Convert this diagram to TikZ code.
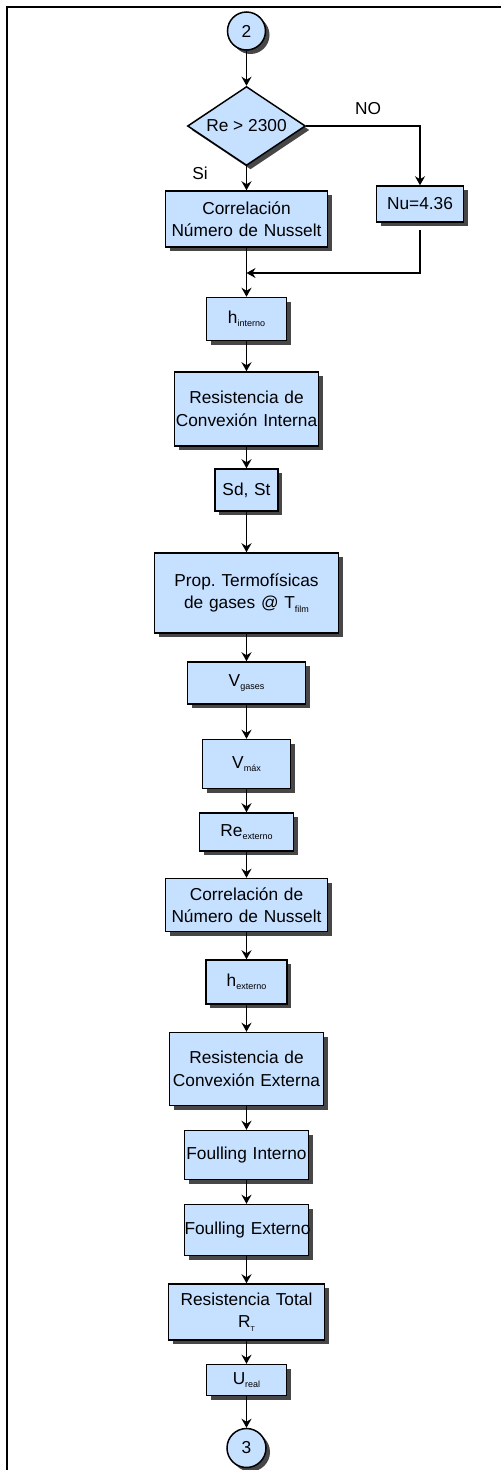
\documentclass[tikz,border=0pt]{standalone}
\usepackage{fontspec}
\setmainfont{Liberation Sans}
\usetikzlibrary{shapes.geometric,shadows,arrows.meta}
\definecolor{boxfill}{RGB}{198,224,255}
\newcommand\sbs[1]{\raisebox{-3.5pt}{\fontsize{9}{9}\selectfont #1}}
\frenchspacing
\begin{document}
\begin{tikzpicture}[x=1pt,y=-1pt,
  every node/.style={font=\fontsize{17.3}{22.5}\selectfont},
  shad/.style={general shadow={fill=black!72, shadow xshift=4pt, shadow yshift=-4pt}},
  proc/.style={draw=black, line width=1.5pt, fill=boxfill, shad, rectangle, inner sep=0pt, align=center},
  conn/.style={circle, draw=black, line width=1.5pt, fill=boxfill, shad, inner sep=0pt},
  dec/.style={diamond, draw=black, line width=1.5pt, fill=boxfill, shad, inner sep=0pt},
  arr/.style={line width=1.3pt, -{Stealth[length=9pt,width=10pt,inset=3pt]}},
  lbl/.style={inner sep=0pt}]
\useasboundingbox (0,0) rectangle (501,1470);
\draw[line width=2pt] (6.5,1470) -- (6.5,6.5) -- (501,6.5);

\node[conn, minimum size=38pt] (c2) at (246.5,31) {2};
\node[dec, minimum width=118pt, minimum height=79pt] (dec) at (246.5,126) {\makebox[0pt]{Re > 2300}};
\node[proc, text width=87pt, minimum height=36pt] (nu) at (420,204) {\mbox{Nu=4.36}};
\node[proc, text width=162pt, minimum height=56pt] (corr1) at (246.5,219) {Correlación\\\mbox{Número de Nusselt}};
\node[proc, text width=80pt, minimum height=43pt] (hint) at (246.5,319) {\mbox{h\sbs{interno}}};
\node[proc, text width=144pt, minimum height=74pt] (rint) at (246.5,409) {\mbox{Resistencia de}\\\mbox{Convexión Interna}};
\node[proc, text width=63pt, minimum height=42pt] (sdst) at (246.5,490) {\mbox{Sd, St}};
\node[proc, text width=184pt, minimum height=80pt] (prop) at (246.5,593) {\mbox{Prop. Termofísicas}\\\mbox{de gases @ T\sbs{film}}};
\node[proc, text width=118pt, minimum height=42pt] (vgas) at (246.5,683) {\mbox{V\sbs{gases}}};
\node[proc, text width=88pt, minimum height=49pt] (vmax) at (246.5,764) {\mbox{V\sbs{máx}}};
\node[proc, text width=94pt, minimum height=38pt] (reext) at (246.5,832) {\mbox{Re\sbs{externo}}};
\node[proc, text width=162pt, minimum height=53pt] (corr2) at (246.5,905) {\mbox{Correlación de}\\\mbox{Número de Nusselt}};
\node[proc, text width=81pt, minimum height=44pt] (hext) at (246.5,982) {\mbox{h\sbs{externo}}};
\node[proc, text width=154pt, minimum height=73pt] (rext) at (246.5,1069) {\mbox{Resistencia de}\\\mbox{Convexión Externa}};
\node[proc, text width=124pt, minimum height=49pt] (fint) at (246.5,1155) {\mbox{Foulling Interno}};
\node[proc, text width=124pt, minimum height=51pt] (fext) at (246.5,1230) {\mbox{Foulling Externo}};
\node[proc, text width=156pt, minimum height=56pt] (rtot) at (246.5,1312) {\mbox{Resistencia Total}\\R\sbs{\fontsize{7}{7}\selectfont T}};
\node[proc, text width=80pt, minimum height=31pt] (ureal) at (246.5,1380) {\mbox{U\sbs{real}}};
\node[conn, minimum size=39pt] (c3) at (246.5,1448) {3};

\node[lbl] (no) at (368,109) {NO};
\node[lbl] (si) at (200,173) {Si};

\coordinate (m) at (246.5,273);
\draw[arr] (c2) -- (dec);
\draw[arr] (dec.east) -| (nu.north);
\draw[arr] (dec) -- (corr1);
\draw[arr] ([yshift=-7pt]nu.south) |- (m);
\draw[arr] (corr1) -- (hint);
\draw[arr] (hint) -- (rint);
\draw[arr] (rint) -- (sdst);
\draw[arr] (sdst) -- (prop);
\draw[arr] (prop) -- (vgas);
\draw[arr] (vgas) -- (vmax);
\draw[arr] (vmax) -- (reext);
\draw[arr] (reext) -- (corr2);
\draw[arr] (corr2) -- (hext);
\draw[arr] (hext) -- (rext);
\draw[arr] (rext) -- (fint);
\draw[arr] (fint) -- (fext);
\draw[arr] (fext) -- (rtot);
\draw[arr] (rtot) -- (ureal);
\draw[arr] (ureal) -- (c3);
\end{tikzpicture}
\end{document}
